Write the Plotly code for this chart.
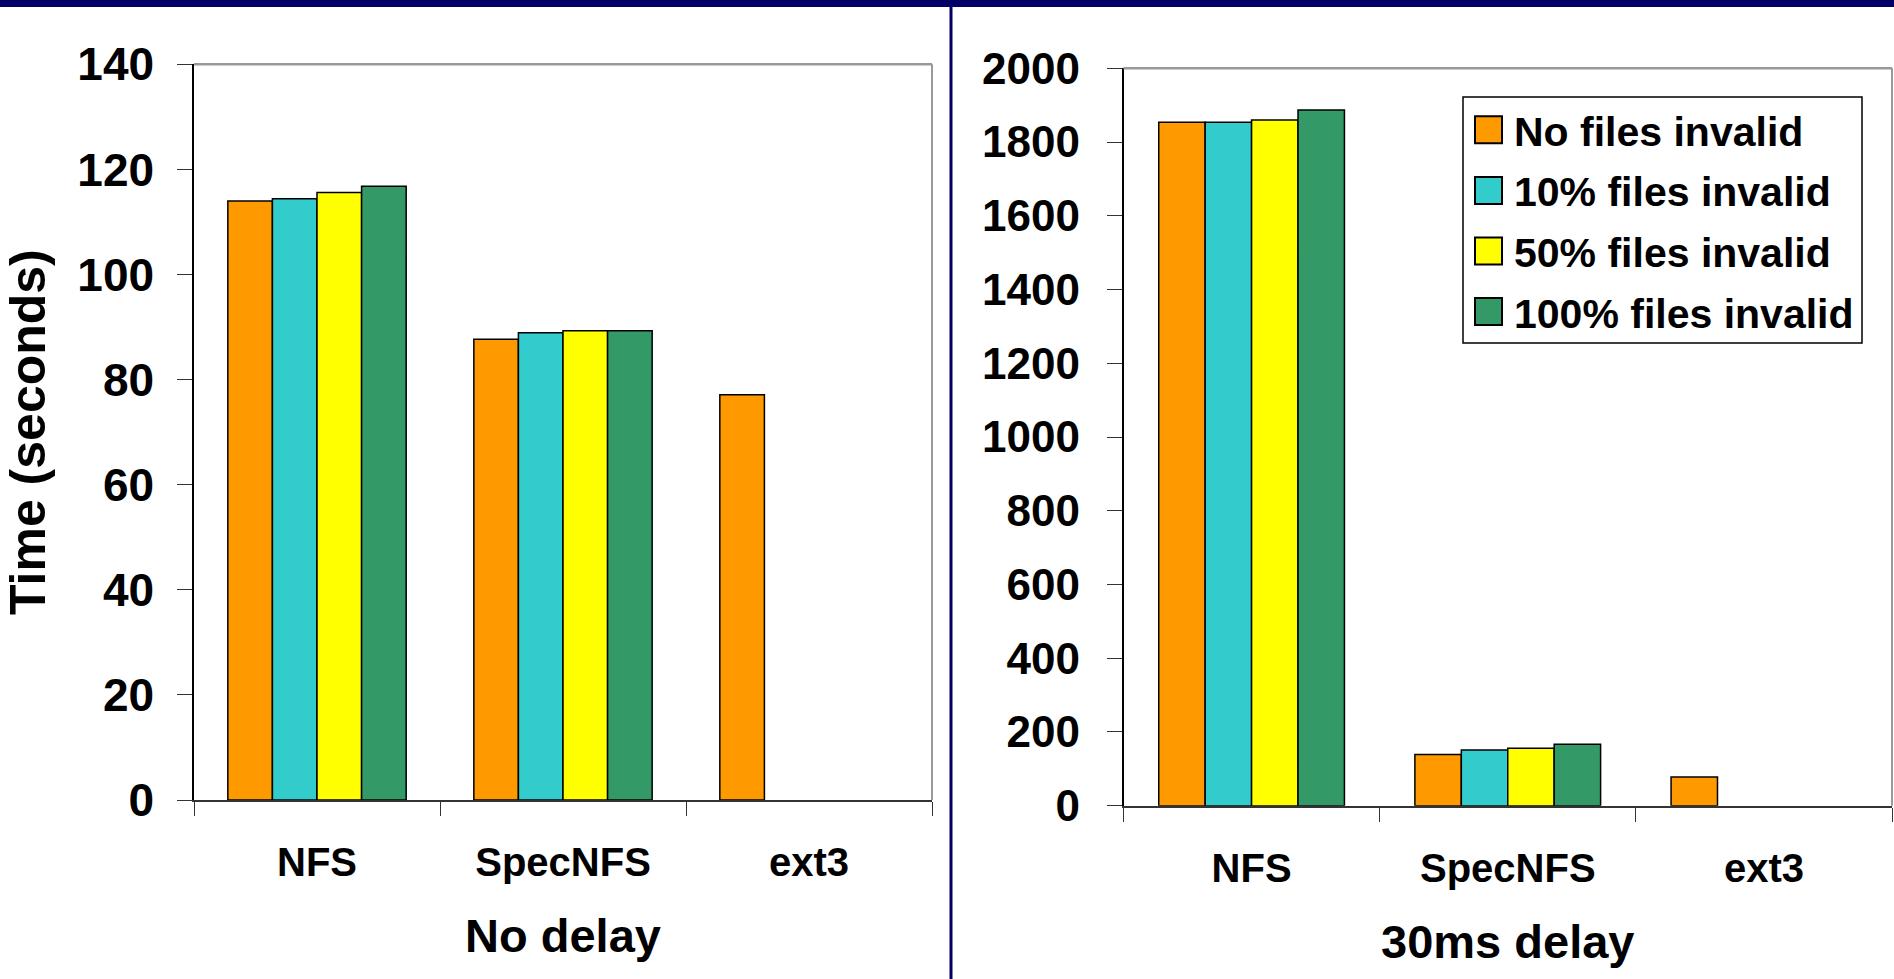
import plotly.graph_objects as go

W, H = 1894, 979

categories = ["NFS", "SpecNFS", "ext3"]
series_names = ["No files invalid", "10% files invalid", "50% files invalid", "100% files invalid"]
series_colors = ["#FF9900", "#33CCCC", "#FFFF00", "#339966"]

# Run times (seconds) with no added network delay
no_delay_none = [114.0, 87.7, 77.1]
no_delay_10 = [114.4, 88.9, None]
no_delay_50 = [115.6, 89.3, None]
no_delay_100 = [116.8, 89.3, None]

# Run times (seconds) with a 30 ms network delay
delay30_none = [1854, 139, 78]
delay30_10 = [1854, 151, None]
delay30_50 = [1860, 156, None]
delay30_100 = [1887, 167, None]

left_title = "No delay"
right_title = "30ms delay"
y_title = "Time (seconds)"

FONT = "Liberation Sans, Arial, sans-serif"
NAVY = "#000066"


def px_x(x):
    return x / W


def px_y(y):
    return 1 - y / H


def bold(size):
    return dict(family=FONT, size=size, color="black", weight="bold")


fig = go.Figure()

left_series = [no_delay_none, no_delay_10, no_delay_50, no_delay_100]
right_series = [delay30_none, delay30_10, delay30_50, delay30_100]

for name, color, vals in zip(series_names, series_colors, left_series):
    fig.add_trace(go.Bar(
        x=categories, y=vals, name=name, xaxis="x", yaxis="y", showlegend=False,
        marker=dict(color=color, line=dict(color="black", width=1.5)),
    ))
for name, color, vals in zip(series_names, series_colors, right_series):
    fig.add_trace(go.Bar(
        x=categories, y=vals, name=name, xaxis="x2", yaxis="y2", showlegend=False,
        marker=dict(color=color, line=dict(color="black", width=1.5)),
    ))

xaxis_common = dict(
    type="category", tickson="boundaries", ticks="outside", ticklen=14,
    tickcolor="#333333", tickwidth=1, showline=True, linecolor="#333333",
    linewidth=2, showgrid=False, tickfont=bold(40), ticklabelstandoff=26,
    automargin=False, fixedrange=True,
)
yaxis_common = dict(
    ticks="outside", ticklen=15, tickcolor="#333333", tickwidth=1,
    showline=True, linecolor="black", linewidth=1.5, showgrid=False,
    zeroline=False, automargin=False, fixedrange=True,
)

fig.update_layout(
    width=W, height=H,
    margin=dict(l=0, r=0, t=0, b=0),
    paper_bgcolor="white", plot_bgcolor="white",
    barmode="group", bargap=0.275, bargroupgap=0,
    xaxis=dict(domain=[px_x(194), px_x(932)], anchor="y",
               title=dict(text=left_title, font=bold(47), standoff=36),
               **xaxis_common),
    yaxis=dict(domain=[px_y(800), px_y(64.3)], anchor="x",
               range=[0, 140], dtick=20, tickfont=bold(46), ticklabelstandoff=14,
               title=dict(text=y_title, font=bold(50), standoff=28),
               **yaxis_common),
    xaxis2=dict(domain=[px_x(1123.5), px_x(1892)], anchor="y2",
                title=dict(text=right_title, font=bold(47), standoff=36),
                **xaxis_common),
    yaxis2=dict(domain=[px_y(805.7), px_y(68.3)], anchor="x2",
                range=[0, 2000], dtick=200, tickfont=bold(44), ticklabelstandoff=18,
                **yaxis_common),
)

shapes = []
# Grey top and right frame edges of each plot area
for xr, yr in (("x domain", "y domain"), ("x2 domain", "y2 domain")):
    shapes.append(dict(type="line", xref=xr, yref=yr, x0=0, x1=1, y0=1, y1=1,
                       line=dict(color="#999999", width=2.5)))
    shapes.append(dict(type="line", xref=xr, yref=yr, x0=1, x1=1, y0=0, y1=1,
                       line=dict(color="#999999", width=2)))

# Navy header band and divider between the panels
shapes.append(dict(type="rect", xref="paper", yref="paper",
                   x0=0, x1=1, y0=px_y(7), y1=1,
                   fillcolor=NAVY, line=dict(width=0)))
shapes.append(dict(type="line", xref="paper", yref="paper",
                   x0=px_x(951), x1=px_x(951), y0=0, y1=1,
                   line=dict(color=NAVY, width=3)))

# Legend box with swatches
shapes.append(dict(type="rect", xref="paper", yref="paper",
                   x0=px_x(1463), x1=px_x(1862), y0=px_y(343), y1=px_y(97),
                   fillcolor="white", line=dict(color="black", width=1.5)))
annotations = []
row0, row_step, sw = 129.8, 60.6, 27
for i, (name, color) in enumerate(zip(series_names, series_colors)):
    cy = row0 + i * row_step
    shapes.append(dict(type="rect", xref="paper", yref="paper",
                       x0=px_x(1475), x1=px_x(1475 + sw),
                       y0=px_y(cy + sw / 2), y1=px_y(cy - sw / 2),
                       fillcolor=color, line=dict(color="black", width=2)))
    annotations.append(dict(xref="paper", yref="paper", x=px_x(1512), y=px_y(cy + 2),
                            xanchor="left", yanchor="middle", showarrow=False,
                            text=name, font=bold(41)))

fig.update_layout(shapes=shapes, annotations=annotations)

fig.write_html("out.html")
